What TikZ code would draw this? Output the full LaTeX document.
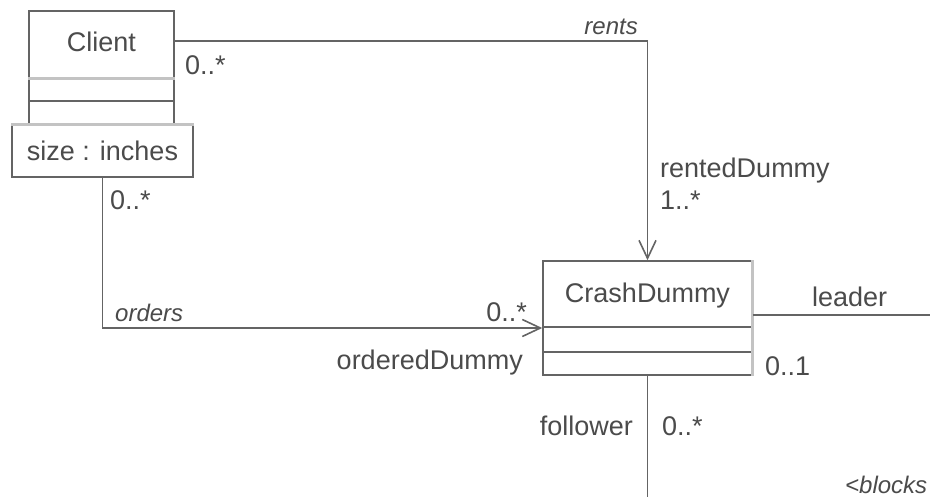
\documentclass[tikz,border=0pt]{standalone}
\usepackage{fontspec}
\setmainfont{Liberation Sans}
\usetikzlibrary{arrows.meta}
\definecolor{ln}{RGB}{100,100,100}
\definecolor{tx}{RGB}{75,75,75}
\definecolor{lg}{RGB}{195,195,195}
\begin{document}
\begin{tikzpicture}[x=1pt,y=-1pt,
  lbl/.style={font=\fontsize{27}{30}\selectfont, text=tx, inner sep=0pt},
  ilbl/.style={font=\fontsize{24}{28}\selectfont\itshape, text=tx, inner sep=0pt},
  conn/.style={draw=ln, line width=1.6pt},
  opn/.style={-{Straight Barb[length=18pt,width=17pt,line width=1.6pt]}},
  classbox/.style={draw=ln, line width=1.6pt, inner sep=0pt, fill=white},
  divider/.style={draw=ln, line width=1.6pt},
  lightline/.style={draw=lg, line width=3pt}]
\useasboundingbox[fill=white] (0,0) rectangle (930,497);

% Client class
\node (client) [classbox, minimum width=145pt, minimum height=114pt] at (101.5,68) {};
\node (clientname) [lbl, anchor=base] at (101.5,52) {Client};
\draw[lightline] ([yshift=-68pt]client.north west) -- ([yshift=-68pt]client.north east);
\draw[divider] ([yshift=-91pt]client.north west) -- ([yshift=-91pt]client.north east);

% size box
\node (size) [classbox, lbl, draw=ln, minimum width=181pt, minimum height=52pt] at (102.5,151) {size : inches};
\draw[lightline] (size.north west) -- (size.north east);

% CrashDummy class
\node (crash) [classbox, minimum width=209pt, minimum height=114pt] at (647.5,318) {};
\node (crashname) [lbl, anchor=base] at (647.5,303) {CrashDummy};
\draw[divider] ([yshift=-67pt]crash.north west) -- ([yshift=-67pt]crash.north east);
\draw[divider] ([yshift=-92pt]crash.north west) -- ([yshift=-92pt]crash.north east);
\draw[lightline] (crash.north east) -- (crash.south east);

% free ends
\coordinate (leaderend) at (935,315);
\coordinate (followerend) at (647.5,505);

% connectors
\draw[conn, opn] (client.north east) ++(0,31) -| (crash.north);
\draw[conn, opn] (size.south) |- ([yshift=-10pt]crash.west);
\draw[conn] ([yshift=3pt]crash.east) -- (leaderend);
\draw[conn] (crash.south) -- (followerend);

% labels
\node (m1) [lbl, anchor=base west] at (185,75) {0..*};
\node (rents) [ilbl, anchor=base east] at (638,35) {rents};
\node (rented) [lbl, anchor=base west] at (660,178) {rentedDummy};
\node (m2) [lbl, anchor=base west] at (660,210) {1..*};
\node (leader) [lbl, anchor=base west] at (812,307) {leader};
\node (m3) [lbl, anchor=base west] at (765,375) {0..1};
\node (orders) [ilbl, anchor=base west] at (115,322) {orders};
\node (m4) [lbl, anchor=base east] at (527,322) {0..*};
\node (ordered) [lbl, anchor=base east] at (523,370) {orderedDummy};
\node (m5) [lbl, anchor=base west] at (110,210) {0..*};
\node (follower) [lbl, anchor=base east] at (633,435) {follower};
\node (m6) [lbl, anchor=base west] at (662,435) {0..*};
\node (blocks) [ilbl, anchor=base west] at (845,493) {<blocks};
\end{tikzpicture}
\end{document}
